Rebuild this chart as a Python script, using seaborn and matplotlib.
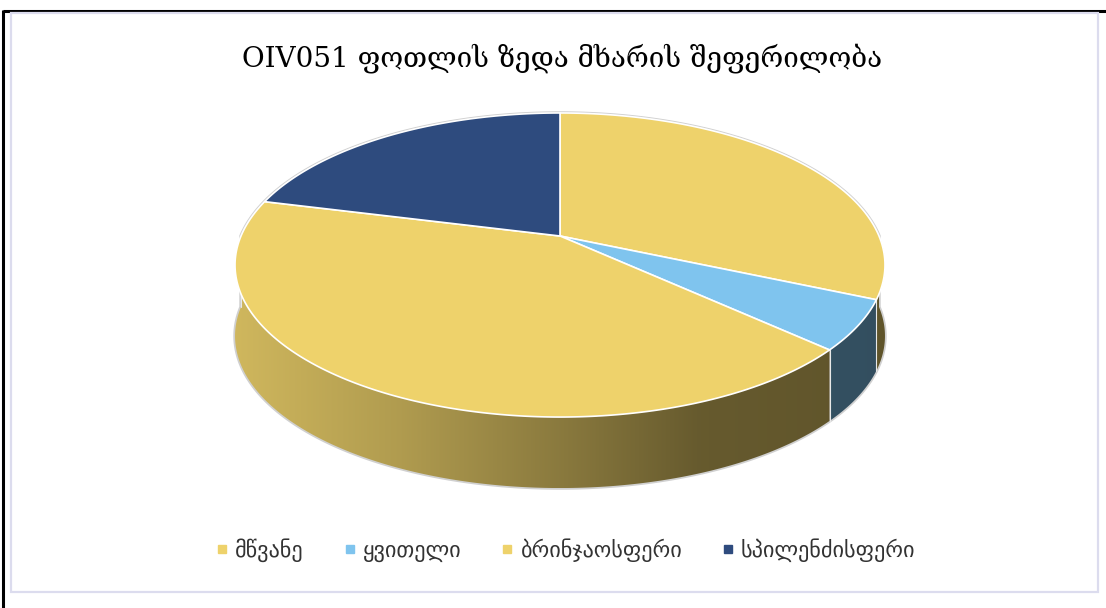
import numpy as np
import pandas as pd
import matplotlib
matplotlib.use("Agg")
import matplotlib.pyplot as plt
import seaborn as sns
from matplotlib.patches import Polygon, Rectangle
from matplotlib.lines import Line2D
from matplotlib.colors import to_rgb

# ---- data ----
categories = ["მწვანე", "ყვითელი", "ბრინჯაოსფერი", "სპილენძისფერი"]
counts = [6, 1, 8, 4]
slice_colors = ["#eed26b", "#7fc4ee", "#eed26b", "#2e4b7e"]
title_text = "OIV051 ფოთლის ზედა მხარის შეფერილობა"

sns.set_theme(style="white")
plt.rcParams["font.family"] = ["DejaVu Sans"]

df = pd.DataFrame({"category": categories, "count": counts, "color": slice_colors})
df["frac"] = df["count"] / df["count"].sum()

# ---- canvas in pixel units ----
W, H = 1106, 608
fig = plt.figure(figsize=(W / 100, H / 100), dpi=100)
ax = fig.add_axes([0, 0, 1, 1])
ax.set_xlim(0, W)
ax.set_ylim(H, 0)
ax.axis("off")

# ---- 3-D pie projection (perspective tilt) ----
CX, CY = 560.0, 236.0   # apex of the top face
RX = 319.0              # horizontal radius
KY = 146.5              # vertical scale
PERSP = 0.1908          # perspective strength
DEPTH = 71.0            # thickness of the disc


def project(theta_deg, drop=0.0):
    t = np.radians(theta_deg)
    u, v = np.cos(t), np.sin(t)
    d = 1 + PERSP * v
    return CX + RX * u / d, CY - KY * v / d + drop


def shade(x):
    return np.interp(x, [236, 400, 560, 700, 885], [0.87, 0.74, 0.58, 0.43, 0.40])


start = 90.0
cum = np.concatenate([[0], np.cumsum(df["frac"].values)])
df["t1"] = start - cum[:-1] * 360
df["t2"] = start - cum[1:] * 360

# silhouette halo
front = np.linspace(-180, 0, 361)
bx, by = project(front, DEPTH)
back_x, back_y = project(np.linspace(0, 180, 361))
sil = np.column_stack([np.concatenate([back_x, bx]), np.concatenate([back_y, by])])
ax.add_patch(Polygon(sil, closed=True, facecolor="#d8d8d8", edgecolor="#d0d0d0",
                     lw=2.5, zorder=1))

# front walls, shaded left-to-right
for _, row in df.iterrows():
    hi, lo = row["t1"], row["t2"]
    for off in (0, 360, -360):
        a, b = max(lo + off, -180.0), min(hi + off, 0.0)
        if b <= a:
            continue
        arc = np.linspace(b, a, 200)
        x0, y0 = project(arc)
        x1, y1 = project(arc[::-1], DEPTH)
        pts = np.column_stack([np.concatenate([x0, x1]), np.concatenate([y0, y1])])
        poly = Polygon(pts, closed=True, facecolor="none", edgecolor="none", zorder=2)
        ax.add_patch(poly)
        xmin, xmax = pts[:, 0].min(), pts[:, 0].max()
        ymin, ymax = pts[:, 1].min(), pts[:, 1].max()
        xs = np.linspace(xmin, xmax, 400)
        base = np.array(to_rgb(row["color"]))
        img = (shade(xs)[:, None] * base[None, :])[None, :, :]
        im = ax.imshow(img, extent=[xmin, xmax, ymax, ymin], aspect="auto",
                       interpolation="bilinear", zorder=2)
        im.set_clip_path(poly)
        # faint seam between neighbouring walls
        ax.plot([x0[-1], x1[0]], [y0[-1], y1[0]], color="#e8e8e8", lw=0.8, zorder=3)

# top faces
for _, row in df.iterrows():
    arc = np.linspace(row["t1"], row["t2"], 300)
    x, y = project(arc)
    pts = np.vstack([[CX, CY], np.column_stack([x, y])])
    ax.add_patch(Polygon(pts, closed=True, facecolor=row["color"],
                         edgecolor="white", lw=1.2, joinstyle="round", zorder=4))

# ---- title ----
ax.text(562, 58, title_text, ha="center", va="center", fontsize=20,
        family=["DejaVu Serif", "DejaVu Sans"], color="black", zorder=5)

# ---- legend ----
handles = [Line2D([], [], marker="s", ls="", color=c, markersize=6) for c in df["color"]]
fig.legend(handles, df["category"].tolist(), loc="center",
           bbox_to_anchor=(566 / W, 1 - 550 / H), ncol=4, frameon=False,
           fontsize=16, handlelength=0.5, handletextpad=0.35, columnspacing=1.8,
           labelcolor="#333333")

# ---- frame ----
ax.plot([3, W], [11, 11], color="black", lw=2.2, zorder=6, solid_capstyle="butt")
ax.plot([3, 3], [10, H], color="black", lw=2.2, zorder=6, solid_capstyle="butt")
ax.add_patch(Rectangle((10.5, 13), 1087, 579, fill=False, edgecolor="#dcdcee",
                       lw=1.6, zorder=6))

fig.savefig("out.png", dpi=100)
